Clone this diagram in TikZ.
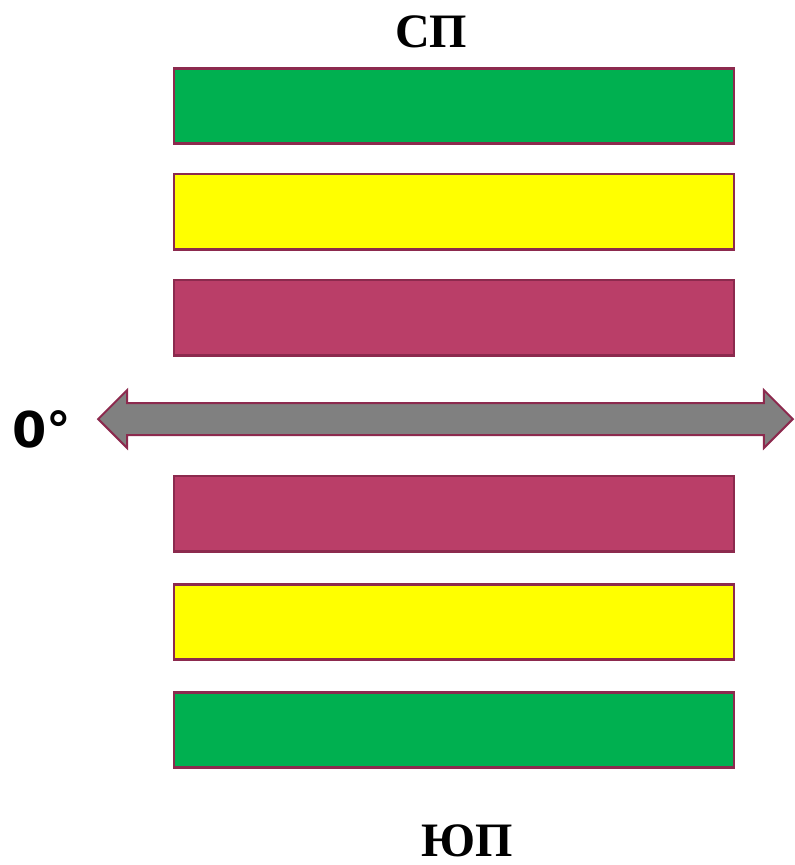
\documentclass[tikz,border=0pt]{standalone}
\usepackage{fontspec}
\setmainfont{Liberation Serif}
\newfontfamily\degfont{DejaVu Sans}
\usepackage{xcolor}
\usepackage{tikz}
\usetikzlibrary{shapes.arrows}

\definecolor{bandgreen}{HTML}{00B050}
\definecolor{bandyellow}{HTML}{FFFF00}
\definecolor{bandred}{HTML}{BA3E68}
\definecolor{bandedge}{HTML}{8C2A4E}

\begin{document}
\begin{tikzpicture}[x = 0.75pt, y = -0.75pt,
	band/.style = {draw = bandedge, line width = 2pt, minimum width = 420pt, minimum height = 56.5pt, inner sep = 0pt},
	pole/.style = {font = \bfseries\fontsize{36}{38}\selectfont, inner sep = 0pt, anchor = base}]
	\useasboundingbox (0, 0) rectangle (794, 865);
	\foreach \name/\y/\color in {n1/106/bandgreen, n2/211.5/bandyellow, n3/317.5/bandred, s3/513.5/bandred, s2/622/bandyellow, s1/730/bandgreen}{
		\node[band, fill = \color] (\name) at (454, \y) {};}
	\node[draw = bandedge, fill = gray, line width = 1.5pt, shape = double arrow, minimum height = 521pt, minimum width = 42pt, inner xsep = 0pt, inner ysep = 11.25pt, double arrow head extend = 9.75pt] (equator) at (445.5, 419) {};
	\node[font = \degfont\bfseries\fontsize{37}{39}\selectfont, inner sep = 0pt, anchor = base west] (zero) at (12, 447) {0°};
	\node[pole] (north) at (431, 47) {СП};
	\node[pole] (south) at (467, 856) {ЮП};
\end{tikzpicture}
\end{document}
